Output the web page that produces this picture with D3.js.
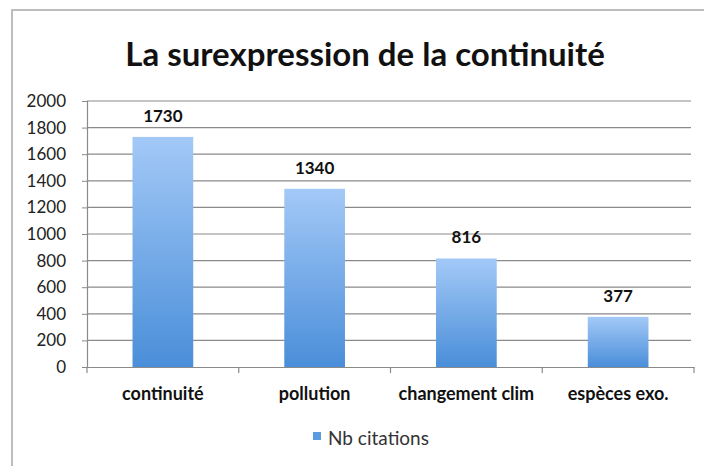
<!DOCTYPE html>
<html>
<head>
<meta charset="utf-8">
<script src="https://cdn.jsdelivr.net/npm/d3@7"></script>
<style>
  body { margin: 0; background: #fff; }
  svg { display: block; font-family: Lato, "Open Sans", sans-serif; }
</style>
</head>
<body>
<div id="chart"></div>
<script>
var categories = ["continuité", "pollution", "changement clim", "espèces exo."];
var citations = [1730, 1340, 816, 377];
var yTicks = [0, 200, 400, 600, 800, 1000, 1200, 1400, 1600, 1800, 2000];
var title = "La surexpression de la continuité";
var seriesName = "Nb citations";

var width = 704,
    height = 466;

var svg = d3.select("#chart").append("svg")
    .attr("width", width)
    .attr("height", height);

// bar gradient, light on top
var grad = svg.append("defs").append("linearGradient")
    .attr("id", "barGrad")
    .attr("x1", 0).attr("y1", 0).attr("x2", 0).attr("y2", 1);
grad.append("stop").attr("offset", "0%").attr("stop-color", "#a3c9f7");
grad.append("stop").attr("offset", "100%").attr("stop-color", "#4a8ed9");

// outer frame (only top and left visible)
svg.append("path")
    .attr("d", "M12,466V10H704")
    .attr("fill", "none")
    .attr("stroke", "#bdbdbd")
    .attr("stroke-width", 2);

svg.append("text")
    .attr("x", 365)
    .attr("y", 66)
    .attr("text-anchor", "middle")
    .attr("font-size", 33)
    .attr("font-weight", "bold")
    .attr("fill", "#111")
    .text(title);

var x = d3.scaleBand()
    .domain(categories)
    .range([87, 694])
    .paddingInner(0.6)
    .paddingOuter(0.3);

var y = d3.scaleLinear()
    .domain([0, 2000])
    .range([367, 101]);

// gridlines
svg.append("g")
    .selectAll("line")
    .data(yTicks.slice(1))
    .join("line")
    .attr("x1", 87)
    .attr("x2", 691)
    .attr("y1", d => y(d))
    .attr("y2", d => y(d))
    .attr("stroke", "#8a8a8a")
    .attr("stroke-width", 1.2);

// y axis
var yAxis = svg.append("g")
    .attr("transform", "translate(87,0)")
    .call(d3.axisLeft(y).tickValues(yTicks).tickFormat(d3.format("d")).tickSize(5).tickPadding(16));
yAxis.select(".domain").attr("stroke", "#8a8a8a").attr("stroke-width", 1.2);
yAxis.selectAll(".tick line").attr("stroke", "#8a8a8a");
yAxis.selectAll("text")
    .attr("font-size", 17)
    .attr("fill", "#222")
    .attr("font-family", "Lato, sans-serif");

// bars
svg.append("g")
    .selectAll("rect")
    .data(citations)
    .join("rect")
    .attr("x", (d, i) => x(categories[i]))
    .attr("y", d => y(d))
    .attr("width", x.bandwidth())
    .attr("height", d => y(0) - y(d))
    .attr("fill", "url(#barGrad)");

// value labels
svg.append("g")
    .selectAll("text")
    .data(citations)
    .join("text")
    .attr("x", (d, i) => x(categories[i]) + x.bandwidth() / 2)
    .attr("y", d => y(d) - 15)
    .attr("text-anchor", "middle")
    .attr("font-size", 17)
    .attr("font-weight", "bold")
    .attr("fill", "#111")
    .text(d => d);

// x axis
var xAxis = svg.append("g")
    .attr("transform", "translate(0,367)")
    .call(d3.axisBottom(x).tickSize(0).tickPadding(20));
xAxis.select(".domain").attr("stroke", "#8a8a8a").attr("stroke-width", 1.2);
xAxis.selectAll("text")
    .attr("font-size", 18)
    .attr("font-weight", "bold")
    .attr("fill", "#111")
    .attr("font-family", "Lato, sans-serif");

// category separators
svg.append("g")
    .selectAll("line")
    .data(d3.range(categories.length + 1))
    .join("line")
    .attr("x1", d => 87 + d * (694 - 87) / categories.length)
    .attr("x2", d => 87 + d * (694 - 87) / categories.length)
    .attr("y1", 367)
    .attr("y2", 373)
    .attr("stroke", "#8a8a8a")
    .attr("stroke-width", 1.2);

// legend
var legend = svg.append("g").attr("transform", "translate(313,432)");
legend.append("rect")
    .attr("width", 8)
    .attr("height", 8)
    .attr("fill", "#5b9be0");
legend.append("text")
    .attr("x", 15)
    .attr("y", 13)
    .attr("font-size", 19)
    .attr("fill", "#333")
    .text(seriesName);
</script>
</body>
</html>
